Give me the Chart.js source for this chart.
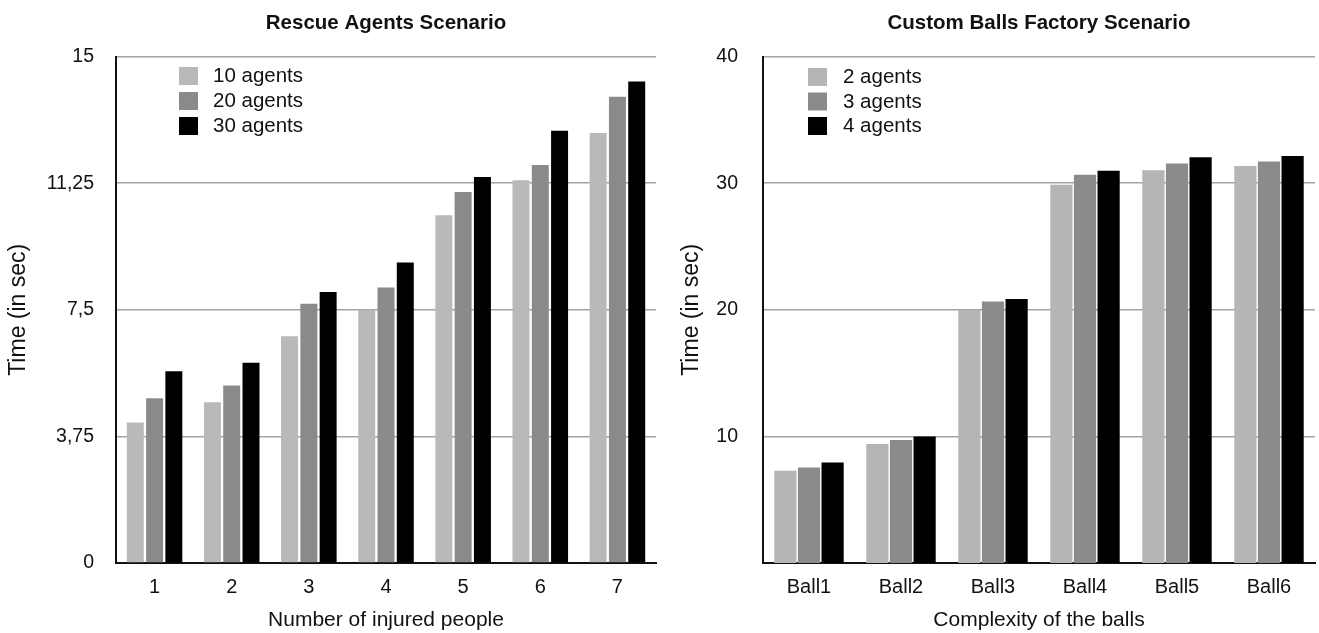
<!DOCTYPE html>
<html>
<head>
<meta charset="utf-8">
<script src="https://cdn.jsdelivr.net/npm/chart.js@4"></script>
<style>
  html, body { margin: 0; padding: 0; background: #fff; }
  .wrap { position: absolute; top: 0; height: 633px; }
  #leftWrap { left: 0; width: 660px; }
  #rightWrap { left: 660px; width: 659px; }
</style>
</head>
<body>
<div class="wrap" id="leftWrap"><canvas id="rescueChart"></canvas></div>
<div class="wrap" id="rightWrap"><canvas id="ballsChart"></canvas></div>
<script>
// Rescue agents scenario
const RESCUE_LABELS = ["1", "2", "3", "4", "5", "6", "7"];
const agents10 = [4.16, 4.76, 6.72, 7.5, 10.3, 11.34, 12.74];
const agents20 = [4.88, 5.26, 7.68, 8.16, 10.99, 11.79, 13.81];
const agents30 = [5.68, 5.93, 8.03, 8.9, 11.43, 12.8, 14.26];
const RESCUE_TICKS = [0, 3.75, 7.5, 11.25, 15];
const RESCUE_TICK_LABELS = ["0", "3,75", "7,5", "11,25", "15"];

// Custom balls factory scenario
const BALL_LABELS = ["Ball1", "Ball2", "Ball3", "Ball4", "Ball5", "Ball6"];
const agents2 = [7.28, 9.39, 20.0, 29.87, 31.03, 31.35];
const agents3 = [7.54, 9.71, 20.66, 30.66, 31.56, 31.72];
const agents4 = [7.94, 10.0, 20.85, 30.98, 32.04, 32.14];
const BALL_TICKS = [10, 20, 30, 40];
const BALL_TICK_LABELS = ["10", "20", "30", "40"];

const FONT = "'Liberation Sans', Arial, sans-serif";
Chart.defaults.font.family = FONT;
Chart.defaults.color = "#111";

// legend drawn inside the plot, top-left
const innerLegend = {
  id: "innerLegend",
  afterDraw(chart, args, opts) {
    const ctx = chart.ctx;
    ctx.save();
    ctx.font = "20.5px " + FONT;
    ctx.textBaseline = "middle";
    chart.data.datasets.forEach((ds, i) => {
      const y = opts.y + i * opts.step;
      ctx.fillStyle = ds.backgroundColor;
      ctx.fillRect(opts.x, y, 19, 18);
      ctx.fillStyle = "#111";
      ctx.fillText(ds.label, opts.textX, y + 9.5);
    });
    ctx.restore();
  }
};

function makeChart(canvasId, cfg) {
  return new Chart(document.getElementById(canvasId), {
    type: "bar",
    data: {
      labels: cfg.labels,
      datasets: cfg.series.map((s) => ({
        label: s.label,
        data: s.data,
        backgroundColor: s.color,
        barPercentage: cfg.barPct,
        categoryPercentage: cfg.catPct
      }))
    },
    options: {
      responsive: true,
      maintainAspectRatio: false,
      animation: false,
      layout: { padding: { left: 0, right: 4, top: 0, bottom: 0 } },
      plugins: {
        legend: { display: false },
        tooltip: { enabled: false },
        title: {
          display: true,
          fullSize: false,
          text: cfg.title,
          color: "#111",
          font: { size: 20.5, weight: "bold" },
          padding: { top: 11, bottom: 21 }
        },
        innerLegend: cfg.legend
      },
      scales: {
        x: {
          grid: { display: false },
          border: { color: "#111", width: 2 },
          ticks: { font: { size: 20 }, padding: 4, color: "#111" },
          title: {
            display: true,
            text: cfg.xTitle,
            color: "#111",
            font: { size: 21 },
            padding: { top: 0, bottom: 0 }
          },
          afterFit: (scale) => { scale.height = 70; }
        },
        y: {
          min: 0,
          max: cfg.max,
          grid: { color: "#a4a4a4", lineWidth: 1.5, drawTicks: false },
          border: { color: "#111", width: 2 },
          ticks: {
            font: { size: 19.5 },
            padding: cfg.tickPad,
            color: "#111",
            callback: (v) => {
              const k = cfg.ticks.indexOf(v);
              return k >= 0 ? cfg.tickLabels[k] : "";
            }
          },
          afterBuildTicks: (scale) => {
            scale.ticks = cfg.ticks.map((v) => ({ value: v }));
          },
          title: {
            display: true,
            text: "Time (in sec)",
            color: "#111",
            font: { size: 23 },
            padding: { top: cfg.yTitlePad, bottom: 0 }
          },
          afterFit: (scale) => { scale.width = cfg.yWidth; }
        }
      }
    },
    plugins: [innerLegend]
  });
}

makeChart("rescueChart", {
  title: "Rescue Agents Scenario",
  labels: RESCUE_LABELS,
  xTitle: "Number of injured people",
  max: 15,
  ticks: RESCUE_TICKS,
  tickLabels: RESCUE_TICK_LABELS,
  tickPad: 22,
  yTitlePad: 5,
  yWidth: 116,
  barPct: 0.88,
  catPct: 0.75,
  legend: { x: 179, y: 67, step: 25, textX: 213 },
  series: [
    { label: "10 agents", data: agents10, color: "#b9b9bb" },
    { label: "20 agents", data: agents20, color: "#8a8a8b" },
    { label: "30 agents", data: agents30, color: "#000000" }
  ]
});

makeChart("ballsChart", {
  title: "Custom Balls Factory Scenario",
  labels: BALL_LABELS,
  xTitle: "Complexity of the balls",
  max: 40,
  ticks: BALL_TICKS,
  tickLabels: BALL_TICK_LABELS,
  tickPad: 25,
  yTitlePad: 18,
  yWidth: 103,
  barPct: 0.94,
  catPct: 0.77,
  legend: { x: 148, y: 68, step: 24.5, textX: 183 },
  series: [
    { label: "2 agents", data: agents2, color: "#b3b5b7" },
    { label: "3 agents", data: agents3, color: "#8a8b8d" },
    { label: "4 agents", data: agents4, color: "#000000" }
  ]
});
</script>
</body>
</html>
